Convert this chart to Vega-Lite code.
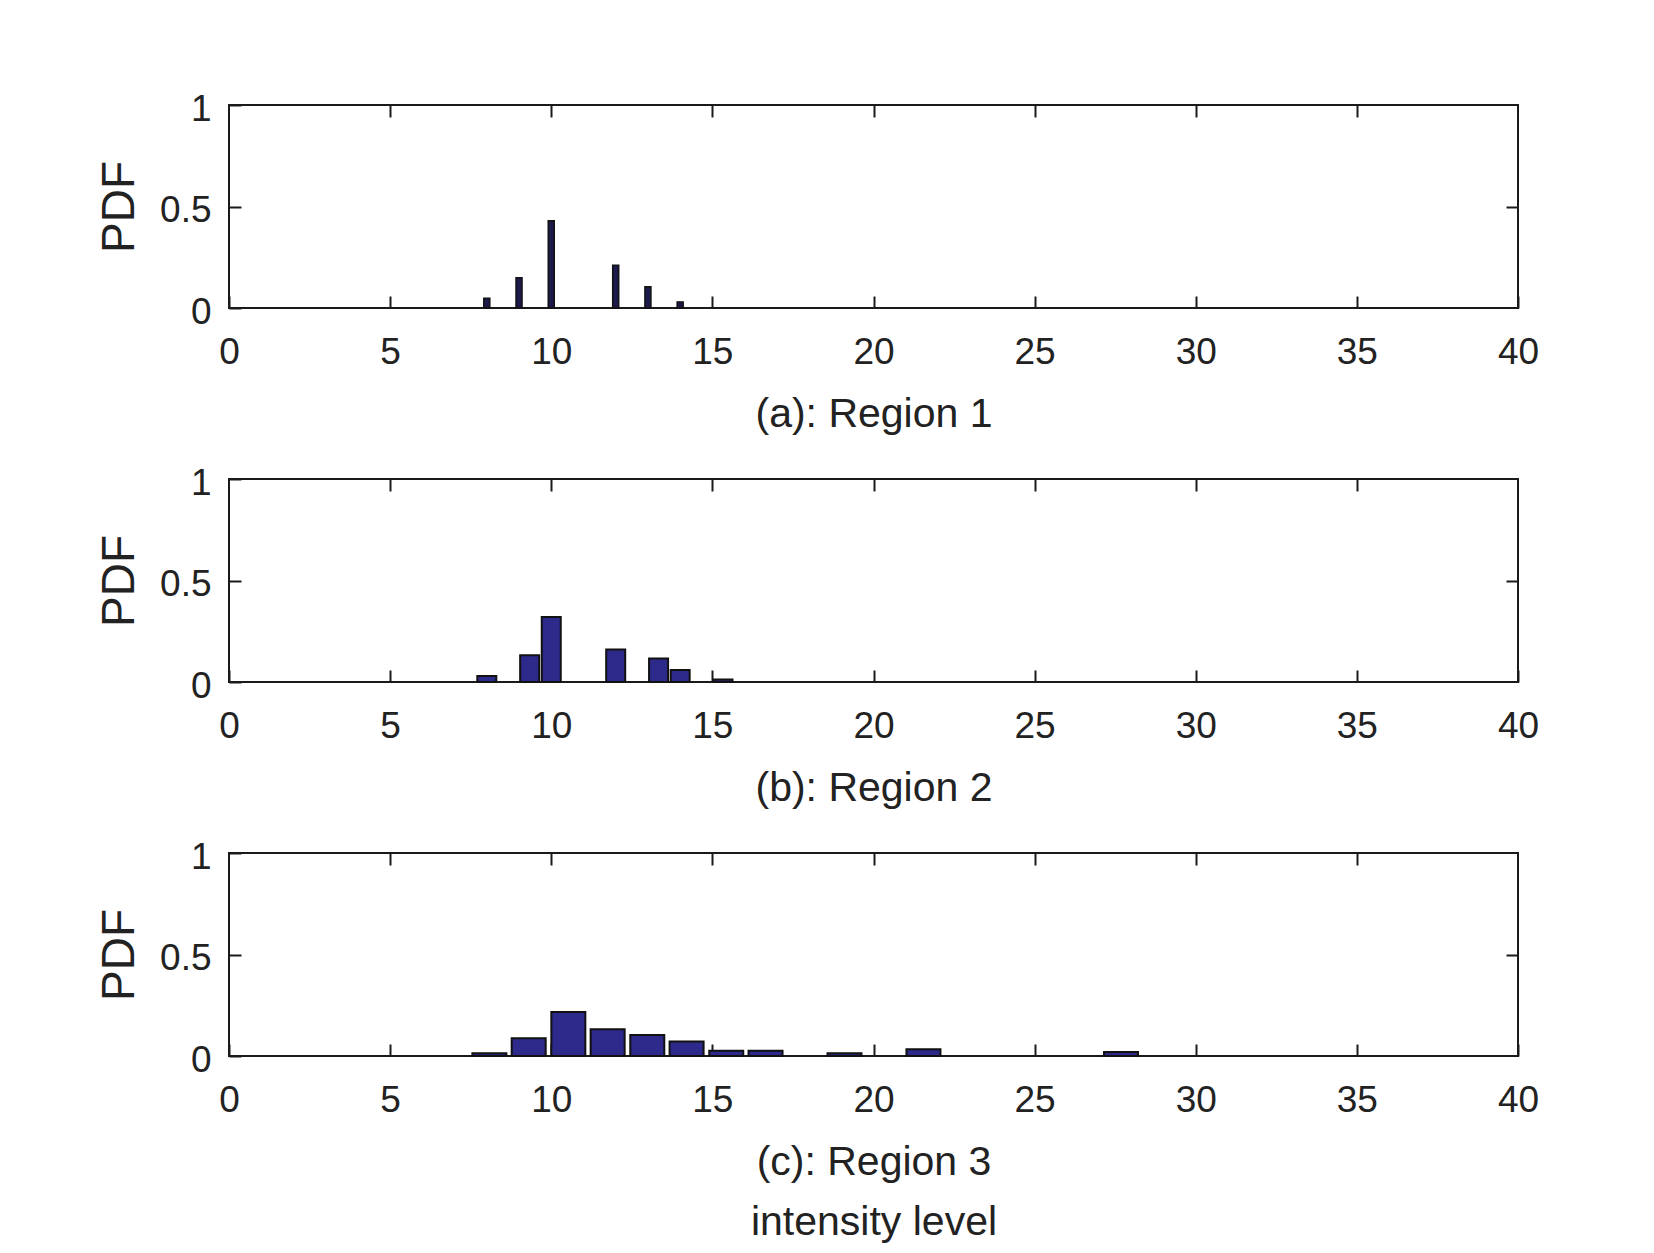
{
  "$schema": "https://vega.github.io/schema/vega-lite/v6.json",
  "background": "white",
  "padding": {"left": 95, "top": 89, "right": 0, "bottom": 0},
  "datasets": {
    "pdf": [
      {"region": "a", "level": 8, "pdf": 0.048},
      {"region": "a", "level": 9, "pdf": 0.149},
      {"region": "a", "level": 10, "pdf": 0.43},
      {"region": "a", "level": 12, "pdf": 0.21},
      {"region": "a", "level": 13, "pdf": 0.105},
      {"region": "a", "level": 14, "pdf": 0.03},
      {"region": "b", "level": 8, "pdf": 0.03},
      {"region": "b", "level": 9.33, "pdf": 0.132},
      {"region": "b", "level": 10, "pdf": 0.32},
      {"region": "b", "level": 12, "pdf": 0.16},
      {"region": "b", "level": 13.33, "pdf": 0.116},
      {"region": "b", "level": 14, "pdf": 0.059},
      {"region": "b", "level": 15.33, "pdf": 0.012},
      {"region": "c", "level": 8.08, "pdf": 0.013},
      {"region": "c", "level": 9.3, "pdf": 0.087},
      {"region": "c", "level": 10.53, "pdf": 0.217},
      {"region": "c", "level": 11.75, "pdf": 0.132},
      {"region": "c", "level": 12.98, "pdf": 0.103},
      {"region": "c", "level": 14.2, "pdf": 0.072},
      {"region": "c", "level": 15.43, "pdf": 0.026},
      {"region": "c", "level": 16.65, "pdf": 0.026},
      {"region": "c", "level": 19.1, "pdf": 0.013},
      {"region": "c", "level": 21.55, "pdf": 0.033},
      {"region": "c", "level": 27.68, "pdf": 0.02}
    ]
  },
  "data": {"name": "pdf"},
  "config": {
    "font": "Liberation Sans",
    "view": {"stroke": "#1a1a1a", "strokeWidth": 2},
    "scale": {"continuousPadding": 0},
    "axis": {
      "grid": false,
      "domain": false,
      "tickColor": "#1a1a1a",
      "tickWidth": 2,
      "tickSize": -12,
      "labelColor": "#222222",
      "titleColor": "#222222",
      "labelFont": "Liberation Sans",
      "titleFont": "Liberation Sans",
      "labelFontSize": 37,
      "titleFontWeight": "normal"
    }
  },
  "spacing": 171,
  "bounds": "flush",
  "vconcat": [
    {
      "width": 1289, "height": 203,
      "transform": [{"filter": "datum.region == 'a'"}],
      "layer": [
        {
          "mark": {"type": "bar", "width": 6, "fill": "#1c1a4a", "stroke": "#111111", "strokeWidth": 1.5},
          "encoding": {
            "x": {"field": "level", "type": "quantitative", "scale": {"domain": [0, 40], "nice": false, "zero": false, "padding": 0},
              "axis": {"orient": "bottom", "values": [0, 5, 10, 15, 20, 25, 30, 35, 40], "format": "d", "labelFlush": false, "labelOverlap": false, "labelPadding": 38, "title": "(a): Region 1", "titleFontSize": 41, "titlePadding": 24}},
            "y": {"field": "pdf", "type": "quantitative", "scale": {"domain": [0, 1], "nice": false, "padding": 0},
              "axis": {"orient": "left", "values": [0, 0.5, 1], "format": "~g", "labelPadding": 30, "labelOffset": 4, "title": "PDF", "titleFontSize": 46, "titlePadding": 16}}
          }
        },
        {
          "mark": {"type": "bar", "width": 6, "opacity": 0},
          "encoding": {
            "x": {"field": "level", "type": "quantitative", "scale": {"domain": [0, 40], "nice": false, "zero": false, "padding": 0},
              "axis": {"orient": "top", "values": [5, 10, 15, 20, 25, 30, 35], "labels": false, "title": null}},
            "y": {"field": "pdf", "type": "quantitative", "scale": {"domain": [0, 1], "nice": false, "padding": 0},
              "axis": {"orient": "right", "values": [0.5], "labels": false, "title": null}}
          }
        }
      ],
      "resolve": {"axis": {"x": "independent", "y": "independent"}}
    },
    {
      "width": 1289, "height": 203,
      "transform": [{"filter": "datum.region == 'b'"}],
      "layer": [
        {
          "mark": {"type": "bar", "width": 19, "fill": "#2d2a8c", "stroke": "#111111", "strokeWidth": 2},
          "encoding": {
            "x": {"field": "level", "type": "quantitative", "scale": {"domain": [0, 40], "nice": false, "zero": false, "padding": 0},
              "axis": {"orient": "bottom", "values": [0, 5, 10, 15, 20, 25, 30, 35, 40], "format": "d", "labelFlush": false, "labelOverlap": false, "labelPadding": 38, "title": "(b): Region 2", "titleFontSize": 41, "titlePadding": 24}},
            "y": {"field": "pdf", "type": "quantitative", "scale": {"domain": [0, 1], "nice": false, "padding": 0},
              "axis": {"orient": "left", "values": [0, 0.5, 1], "format": "~g", "labelPadding": 30, "labelOffset": 4, "title": "PDF", "titleFontSize": 46, "titlePadding": 16}}
          }
        },
        {
          "mark": {"type": "bar", "width": 19, "opacity": 0},
          "encoding": {
            "x": {"field": "level", "type": "quantitative", "scale": {"domain": [0, 40], "nice": false, "zero": false, "padding": 0},
              "axis": {"orient": "top", "values": [5, 10, 15, 20, 25, 30, 35], "labels": false, "title": null}},
            "y": {"field": "pdf", "type": "quantitative", "scale": {"domain": [0, 1], "nice": false, "padding": 0},
              "axis": {"orient": "right", "values": [0.5], "labels": false, "title": null}}
          }
        }
      ],
      "resolve": {"axis": {"x": "independent", "y": "independent"}}
    },
    {
      "width": 1289, "height": 203,
      "transform": [{"filter": "datum.region == 'c'"}],
      "layer": [
        {
          "mark": {"type": "bar", "width": 34, "fill": "#2d2a8c", "stroke": "#111111", "strokeWidth": 2},
          "encoding": {
            "x": {"field": "level", "type": "quantitative", "scale": {"domain": [0, 40], "nice": false, "zero": false, "padding": 0},
              "axis": {"orient": "bottom", "values": [0, 5, 10, 15, 20, 25, 30, 35, 40], "format": "d", "labelFlush": false, "labelOverlap": false, "labelPadding": 38, "title": ["(c): Region 3", "intensity level"], "titleFontSize": 41, "titleLineHeight": 60, "titlePadding": 24}},
            "y": {"field": "pdf", "type": "quantitative", "scale": {"domain": [0, 1], "nice": false, "padding": 0},
              "axis": {"orient": "left", "values": [0, 0.5, 1], "format": "~g", "labelPadding": 30, "labelOffset": 4, "title": "PDF", "titleFontSize": 46, "titlePadding": 16}}
          }
        },
        {
          "mark": {"type": "bar", "width": 34, "opacity": 0},
          "encoding": {
            "x": {"field": "level", "type": "quantitative", "scale": {"domain": [0, 40], "nice": false, "zero": false, "padding": 0},
              "axis": {"orient": "top", "values": [5, 10, 15, 20, 25, 30, 35], "labels": false, "title": null}},
            "y": {"field": "pdf", "type": "quantitative", "scale": {"domain": [0, 1], "nice": false, "padding": 0},
              "axis": {"orient": "right", "values": [0.5], "labels": false, "title": null}}
          }
        }
      ],
      "resolve": {"axis": {"x": "independent", "y": "independent"}}
    }
  ]
}
